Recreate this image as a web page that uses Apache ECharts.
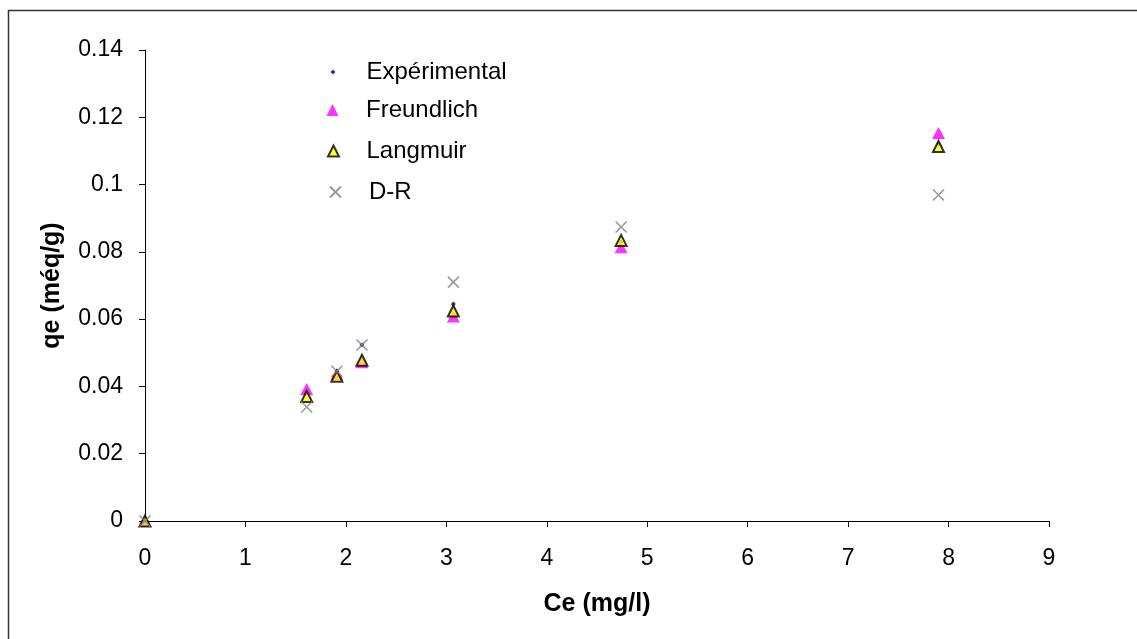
<!DOCTYPE html>
<html>
<head>
<meta charset="utf-8">
<script src="https://cdn.jsdelivr.net/npm/echarts@6/dist/echarts.min.js"></script>
<style>
  html, body { margin: 0; padding: 0; background: #fff; }
  #chart { width: 1137px; height: 639px; }
</style>
</head>
<body>
<div id="chart"></div>
<script>
// Equilibrium concentration Ce (mg/l)
const ce = [0, 1.61, 1.91, 2.16, 3.07, 4.74, 7.90];
// Adsorbed quantity qe (méq/g) — measured and fitted by each isotherm model
const experimental = [0, 0.038, 0.0445, 0.0523, 0.0645, 0.083, 0.112];
const freundlich   = [0, 0.0392, 0.0436, 0.0472, 0.0608, 0.0814, 0.1153];
const langmuir     = [0, 0.0370, 0.0430, 0.0478, 0.0624, 0.0834, 0.1113];
const dr           = [0, 0.0339, 0.0445, 0.0523, 0.0710, 0.0874, 0.0969];

const seriesNames = ['Expérimental', 'Freundlich', 'Langmuir', 'D-R'];
const xTicks = [0, 1, 2, 3, 4, 5, 6, 7, 8, 9];
const yTicks = [0, 0.02, 0.04, 0.06, 0.08, 0.1, 0.12, 0.14];

const pairs = ys => ce.map((x, i) => [x, ys[i]]);
const font = 'Liberation Sans, Arial, sans-serif';

// Glyphs for the triangle and cross markers
const triPath = 'path://M0,10 L5,0 L10,10 Z';
const crossPath = 'path://M0,0 L10,10 M10,0 L0,10';

const chart = echarts.init(document.getElementById('chart'), null, { renderer: 'canvas' });

// One legend block per entry so every key symbol keeps its own size;
// icons are centred on a common column and the labels share a left edge.
const ICON_X = 333, TEXT_X = 366, LEGEND_FS = 24;
const legendRow = (name, centerY, w, h) => {
  const left = ICON_X - w / 2;
  const boxH = Math.max(h, LEGEND_FS);
  return {
    orient: 'vertical',
    left: left,
    top: centerY - boxH / 2,
    data: [name],
    itemWidth: w,
    itemHeight: h,
    itemGap: 0,
    padding: 0,
    selectedMode: false,
    textStyle: {
      fontFamily: font, fontSize: LEGEND_FS, color: '#000',
      padding: [0, 0, 0, Math.round(TEXT_X - (left + w + 5))]
    }
  };
};

chart.setOption({
  animation: false,
  backgroundColor: '#fff',
  graphic: [{
    type: 'rect',
    shape: { x: 8.5, y: 10.5, width: 1300, height: 800 },
    style: { fill: 'none', stroke: '#333', lineWidth: 1.5 },
    silent: true
  }],
  legend: [
    legendRow(seriesNames[0], 72, 5, 5),
    legendRow(seriesNames[1], 110, 13, 12),
    legendRow(seriesNames[2], 151, 12, 11),
    legendRow(seriesNames[3], 192, 11, 11)
  ],
  grid: { left: 145, right: 88, top: 50, bottom: 118, containLabel: false },
  xAxis: {
    type: 'value',
    min: 0, max: 9, interval: 1,
    name: 'Ce (mg/l)',
    nameLocation: 'middle',
    nameGap: 71,
    nameTextStyle: { fontFamily: font, fontSize: 25, fontWeight: 'bold', color: '#000' },
    axisLine: { show: true, onZero: false, lineStyle: { color: '#000', width: 1 } },
    axisTick: { show: true, inside: false, length: 6, lineStyle: { color: '#000' } },
    axisLabel: {
      fontFamily: font, fontSize: 23, color: '#000', margin: 26,
      formatter: v => xTicks.includes(v) ? String(v) : ''
    },
    splitLine: { show: false }
  },
  yAxis: {
    type: 'value',
    min: 0, max: 0.14, interval: 0.02,
    name: 'qe (méq/g)',
    nameLocation: 'middle',
    nameGap: 80,
    nameRotate: 90,
    nameTextStyle: { fontFamily: font, fontSize: 25, fontWeight: 'bold', color: '#000' },
    axisLine: { show: true, onZero: false, lineStyle: { color: '#000', width: 1 } },
    axisTick: { show: true, inside: false, length: 6, lineStyle: { color: '#000' } },
    axisLabel: {
      fontFamily: font, fontSize: 23, color: '#000', margin: 22,
      formatter: v => {
        const r = +v.toFixed(2);
        return yTicks.some(t => Math.abs(t - r) < 1e-9) ? String(r) : '';
      }
    },
    splitLine: { show: false }
  },
  series: [
    {
      name: seriesNames[0], type: 'scatter', data: pairs(experimental),
      symbol: 'diamond', symbolSize: 5,
      itemStyle: { color: '#000080' }, z: 2
    },
    {
      name: seriesNames[1], type: 'scatter', data: pairs(freundlich),
      symbol: triPath, symbolSize: [13, 12],
      itemStyle: { color: '#ff00ff' }, z: 3
    },
    {
      name: seriesNames[2], type: 'scatter', data: pairs(langmuir),
      symbol: triPath, symbolSize: [11, 11],
      itemStyle: { color: '#ffff00', borderColor: '#000', borderWidth: 2 }, z: 4
    },
    {
      name: seriesNames[3], type: 'scatter', data: pairs(dr),
      symbol: crossPath, symbolSize: 11,
      itemStyle: { color: 'none', borderColor: '#808080', borderWidth: 1.6 }, z: 5
    }
  ]
});
</script>
</body>
</html>
